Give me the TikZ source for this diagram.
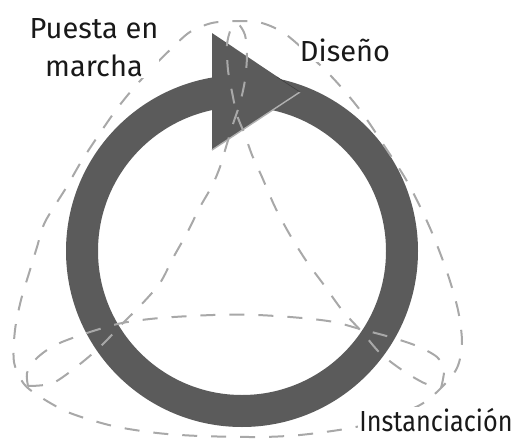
\documentclass[tikz,border=0pt]{standalone}
\usepackage{fontspec}
\setmainfont{Fira Sans}
\usetikzlibrary{positioning}
\definecolor{ringgray}{HTML}{5B5B5B}
\definecolor{guidegray}{HTML}{A8A8A8}
\definecolor{edgegray}{HTML}{B0B0B0}
\tikzstyle{guide} = [draw=guidegray, line width=2pt, dash pattern=on 15pt off 14pt]
\tikzstyle{lbl} = [fill=white, inner sep=1pt, text=black!90, font=\fontsize{29}{38}\selectfont]

\begin{document}
\begin{tikzpicture}[x=1pt, y=-1pt]

    \useasboundingbox (0,0) rectangle (517,439);

    \fill [ringgray, even odd rule] (242,251) circle (176pt) circle (144pt);
    \fill [ringgray] (212,33) -- (300,92) -- (212,150) -- cycle;
    \draw [edgegray, line width=1.4pt] (212,150) -- (300,92);
    \draw [ringgray!70!black, line width=0.6pt] (277,77) -- (300,92);

    \draw [guide] plot [smooth cycle] coordinates {(238,21) (262,23) (288,36) (330,75) (360,110) (385,147) (408,183) (430,228) (447,272) (458,310) (462,343) (457,368) (441,388) (420,405) (380,421) (345,429) (300,435) (260,437) (200,436) (157,433) (113,426) (70,413) (42,398) (24,384) (14,362) (15,330) (21,300) (30,270) (37,247) (45,222) (66,188) (81,162) (98,136) (116,110) (132,90) (152,68) (173,47) (190,32) (212,23)};

    \draw [guide] plot [smooth] coordinates {(28,386) (53,383) (80,364) (102,345) (123,323) (140,306) (160,283) (173,258) (187,233) (200,207) (212,186) (220,167) (226,147) (233,124) (240,103) (245,80) (247,55) (245,35) (238,24) (231,29) (227,45) (228,70) (232,92) (237,115) (245,135) (252,155) (262,177) (275,207) (290,235) (307,262) (324,285) (342,310) (362,332) (380,353) (402,370) (424,383) (441,388)};

    \draw [guide] plot [smooth] coordinates {(28,386) (27,373) (35,360) (47,350) (62,342) (90,332) (122,323) (160,318) (213,315) (257,315) (302,318) (334,322) (360,329) (390,337) (417,346) (437,357) (444,370) (441,388)};

    \node (puesta) [lbl, align=center] at (94,48) {Puesta en\\marcha};
    \node (diseno) [lbl, anchor=base] at (345,61) {Diseño};
    \node (inst) [lbl, anchor=base] at (436,431) {\scalebox{0.87}[1]{Instanciación}};

\end{tikzpicture}
\end{document}
